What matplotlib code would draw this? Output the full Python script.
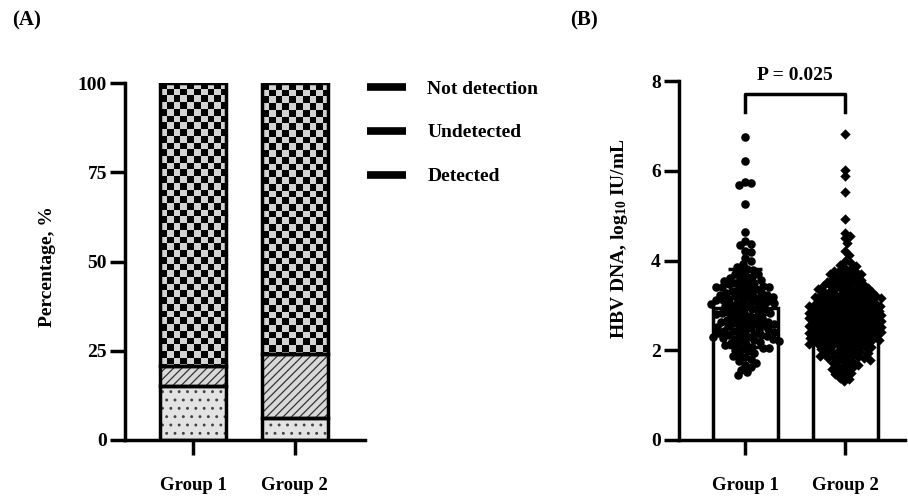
import matplotlib
matplotlib.use("Agg")
import matplotlib.pyplot as plt
import numpy as np
from matplotlib.colors import ListedColormap
from matplotlib.lines import Line2D

plt.rcParams["font.family"] = ["Liberation Serif", "DejaVu Serif"]
plt.rcParams["font.weight"] = "bold"
plt.rcParams["mathtext.fontset"] = "custom"
plt.rcParams["mathtext.rm"] = "Liberation Serif:bold"
plt.rcParams["mathtext.it"] = "Liberation Serif:bold"
plt.rcParams["mathtext.bf"] = "Liberation Serif:bold"
plt.rcParams["hatch.linewidth"] = 0.9

# panel A data (percent)
groups = ["Group 1", "Group 2"]
detected = [15.2, 6.1]
undetected = [5.4, 18.1]
not_detection = [79.4, 75.8]
legend_labels = ["Not detection", "Undetected", "Detected"]

# panel B data (log10 IU/mL)
hbv_g1 = [6.76, 6.22, 5.75, 5.72, 5.68, 5.27, 4.63, 4.43, 4.37, 4.35, 4.21, 4.18, 4.05,
          3.98, 3.92, 3.86, 3.81, 3.78, 3.74, 3.71, 3.69, 3.65, 3.63, 3.62,
          3.58, 3.57, 3.55, 3.52, 3.50, 3.49, 3.47, 3.45, 3.44, 3.42, 3.41, 3.40,
          3.39, 3.37, 3.35, 3.33, 3.31, 3.29, 3.27, 3.26, 3.24, 3.23, 3.21, 3.20,
          3.19, 3.18, 3.16, 3.15, 3.14, 3.12, 3.11, 3.10, 3.08, 3.07, 3.06, 3.05, 3.04, 3.03, 3.01, 3.00,
          2.98, 2.96, 2.94, 2.91, 2.89, 2.87, 2.86, 2.85, 2.84, 2.83, 2.82, 2.81,
          2.79, 2.77, 2.75, 2.73, 2.71, 2.69, 2.67, 2.65, 2.64, 2.63, 2.62, 2.61,
          2.59, 2.58, 2.56, 2.55, 2.53, 2.52, 2.50, 2.49, 2.47, 2.46, 2.44, 2.43, 2.41, 2.40,
          2.38, 2.37, 2.36, 2.34, 2.33, 2.32, 2.30, 2.29, 2.28, 2.26, 2.25, 2.24, 2.22, 2.21,
          2.18, 2.16, 2.14, 2.13, 2.11, 2.08, 2.06, 2.05, 2.03, 2.01,
          1.98, 1.94, 1.91, 1.87, 1.84, 1.81, 1.77, 1.72, 1.67, 1.62, 1.57, 1.51, 1.45]
hbv_g2 = [6.82, 6.01, 5.88, 5.53, 4.92, 4.62, 4.55, 4.50, 4.39, 4.21, 4.12,
          3.98, 3.95, 3.91, 3.88, 3.84, 3.81,
          3.79, 3.77, 3.75, 3.73, 3.71, 3.69, 3.67, 3.65, 3.63, 3.61,
          3.59, 3.58, 3.56, 3.55, 3.53, 3.52, 3.50, 3.49, 3.47, 3.46, 3.44, 3.43, 3.41, 3.40,
          3.39, 3.38, 3.37, 3.36, 3.35, 3.33, 3.32, 3.31, 3.30, 3.29, 3.27, 3.26, 3.25, 3.24, 3.23, 3.22,
          3.21, 3.20,
          3.19, 3.18, 3.18, 3.17, 3.16, 3.15, 3.14, 3.13, 3.12, 3.11, 3.10, 3.09, 3.08, 3.07, 3.06, 3.05,
          3.04, 3.03, 3.02, 3.01, 3.01, 3.00,
          2.99, 2.99, 2.98, 2.97, 2.96, 2.95, 2.94, 2.94, 2.93, 2.92, 2.91, 2.90, 2.89, 2.89, 2.88, 2.87,
          2.86, 2.85, 2.84, 2.84, 2.83, 2.82, 2.82, 2.81, 2.80, 2.80,
          2.79, 2.79, 2.78, 2.77, 2.77, 2.76, 2.75, 2.75, 2.74, 2.73, 2.72, 2.72, 2.71, 2.70, 2.69, 2.69,
          2.68, 2.67, 2.66, 2.66, 2.65, 2.64, 2.63, 2.63, 2.62, 2.61, 2.61, 2.60,
          2.59, 2.59, 2.58, 2.57, 2.57, 2.56, 2.55, 2.55, 2.54, 2.53, 2.52, 2.52, 2.51, 2.50, 2.49, 2.49,
          2.48, 2.47, 2.46, 2.46, 2.45, 2.44, 2.43, 2.43, 2.42, 2.41, 2.41, 2.40,
          2.39, 2.38, 2.37, 2.37, 2.36, 2.35, 2.34, 2.33, 2.32, 2.31, 2.30, 2.29, 2.28, 2.28, 2.27, 2.26,
          2.25, 2.24, 2.23, 2.22, 2.22, 2.21, 2.20, 2.20,
          2.19, 2.18, 2.17, 2.16, 2.15, 2.14, 2.13, 2.12, 2.11, 2.10, 2.09, 2.08, 2.06, 2.05, 2.04, 2.03,
          2.02, 2.01,
          1.99, 1.97, 1.96, 1.94, 1.93, 1.91, 1.90, 1.88, 1.87, 1.85, 1.84, 1.83, 1.82, 1.81,
          1.79, 1.77, 1.75, 1.73, 1.71, 1.69, 1.67, 1.65, 1.63, 1.61,
          1.58, 1.55, 1.52, 1.49, 1.46, 1.43, 1.39, 1.35, 1.31]
hbv_mean = [2.95, 2.75]
hbv_sd = [0.87, 0.78]
p_text = "P = 0.025"

W, H = 908, 496
fig = plt.figure(figsize=(W / 100, H / 100), dpi=100)
axA = fig.add_axes([125 / W, 56 / H, 240 / W, 357 / H])
axB = fig.add_axes([679 / W, 56 / H, 226 / W, 359 / H])

x = np.arange(len(groups))
bw = 0.65
LW = 2.5


def style(ax):
    for s in ["top", "right"]:
        ax.spines[s].set_visible(False)
    for s in ["left", "bottom"]:
        ax.spines[s].set_linewidth(LW)
    ax.tick_params(length=11, width=LW, labelsize=14)
    ax.tick_params(axis="y", pad=2)
    ax.tick_params(axis="x", pad=16, labelsize=13.5)
    ax.set_xticks(x)
    ax.set_xticklabels(groups)


# ---- panel A: stacked bars
b1 = np.array(detected)
b2 = b1 + np.array(undetected)
axA.bar(x, detected, bw, color="#e3e3e3", edgecolor="#444444", hatch="..", lw=0)
axA.bar(x, undetected, bw, bottom=b1, color="#d9d9d9", edgecolor="#333333", hatch="////", lw=0)
bars_nd = axA.bar(x, not_detection, bw, bottom=b2, color="#d2d2d2", lw=0)

checker = ListedColormap(["black", "#d2d2d2"])
sx, sy = 0.066, 1.88
for r in bars_nd:
    x0, y0, wd, ht = r.get_x(), r.get_y(), r.get_width(), r.get_height()
    nx = int(np.ceil(wd / sx)) + 1
    ny = int(np.ceil(ht / sy)) + 1
    grid = np.add.outer(np.arange(ny), np.arange(nx)) % 2
    im = axA.imshow(grid, cmap=checker, extent=(x0, x0 + nx * sx, y0 + ht - ny * sy, y0 + ht),
                    interpolation="nearest", aspect="auto", zorder=1.5)
    im.set_clip_path(r)

for vals, bot in [(detected, None), (undetected, b1), (not_detection, b2)]:
    axA.bar(x, vals, bw, bottom=bot, fill=False, edgecolor="black", lw=LW, zorder=2)

axA.set_xlim(-0.67, 1.69)
axA.set_ylim(0, 100)
axA.set_yticks([0, 25, 50, 75, 100])
style(axA)

handles = [Line2D([], [], color="black", lw=5.5, solid_capstyle="butt") for _ in legend_labels]
fig.legend(handles, legend_labels, loc="upper left", bbox_to_anchor=(367 / W, 1 - 80 / H),
           frameon=False, fontsize=14, handlelength=2.0, handletextpad=1.1,
           labelspacing=1.35, borderpad=0, borderaxespad=0)

# ---- panel B: bars with swarm
axB.set_xlim(-0.66, 1.6)
axB.set_ylim(0, 8)
px_x = 226 / 2.26
px_y = 359 / 8


def swarm(vals, half=36, dmin=5.4):
    order = np.argsort(vals)[::-1]
    offs = np.zeros(len(vals))
    placed = []
    cand = [0.0]
    for k in np.arange(1, half + 0.5, 1.0):
        cand += [k, -k]
    for i in order:
        yv = vals[i] * px_y
        best, bestd = 0.0, -1
        for c in cand:
            if placed:
                p = np.array(placed)
                d = np.min(np.hypot(p[:, 0] - c, p[:, 1] - yv))
            else:
                d = 1e9
            if d >= dmin:
                best = c
                break
            if d > bestd:
                best, bestd = c, d
        offs[i] = best
        placed.append((best, yv))
    return offs / px_x


axB.bar(x, hbv_mean, bw, color="white", edgecolor="black", lw=LW, zorder=1)
for i, (vals, mk, sz, dm) in enumerate([(hbv_g1, "o", 38, 6.0), (hbv_g2, "D", 28, 5.2)]):
    v = np.array(vals)
    axB.scatter(x[i] + swarm(v, dmin=dm), v, s=sz, marker=mk, color="black", lw=0, zorder=2)
axB.errorbar(x, hbv_mean, yerr=hbv_sd, fmt="none", ecolor="black", elinewidth=LW,
             capsize=12, capthick=LW, zorder=3)

axB.plot([0, 0, 1, 1], [7.3, 7.71, 7.71, 7.3], color="black", lw=LW, clip_on=False)
axB.text(0.5, 8.12, p_text, ha="center", va="center", fontsize=14)
axB.set_yticks([0, 2, 4, 6, 8])
style(axB)

# ---- labels
fig.text(12 / W, 1 - 20 / H, "(A)", fontsize=15, ha="left", va="center")
fig.text(570 / W, 1 - 20 / H, "(B)", fontsize=15, ha="left", va="center")
fig.text(47 / W, 1 - 267 / H, "Percentage, %", rotation=90, ha="center", va="center", fontsize=14)
fig.text(619 / W, 1 - 239 / H, r"HBV DNA, log$_{10}$ IU/mL", rotation=90,
         ha="center", va="center", fontsize=14)

fig.savefig("out.png", dpi=100)
